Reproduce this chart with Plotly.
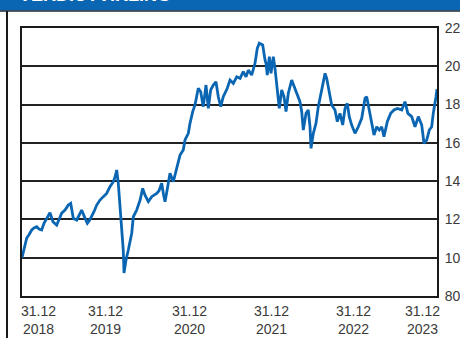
import plotly.graph_objects as go

# Decimal-year position (2019.0 = 31.12.2018) and index value (rebased to 100)
t = [2019.000, 2019.024, 2019.057, 2019.084, 2019.117, 2019.145, 2019.177, 2019.205, 2019.237, 2019.265,
     2019.298, 2019.337, 2019.373, 2019.418, 2019.446, 2019.478, 2019.518, 2019.558, 2019.587, 2019.618,
     2019.659, 2019.687, 2019.719, 2019.759, 2019.787, 2019.813, 2019.840, 2019.867, 2019.900, 2019.940,
     2019.980, 2020.020, 2020.060, 2020.100, 2020.120, 2020.141, 2020.160, 2020.181, 2020.201, 2020.220,
     2020.229, 2020.253, 2020.281, 2020.322, 2020.341, 2020.382, 2020.422, 2020.454, 2020.482, 2020.522,
     2020.563, 2020.623, 2020.651, 2020.683, 2020.705, 2020.723, 2020.747, 2020.783, 2020.823, 2020.864,
     2020.904, 2020.943, 2020.964, 2021.004, 2021.024, 2021.057, 2021.084, 2021.124, 2021.153, 2021.184,
     2021.217, 2021.245, 2021.273, 2021.305, 2021.337, 2021.365, 2021.394, 2021.425, 2021.473, 2021.506,
     2021.546, 2021.587, 2021.627, 2021.666, 2021.699, 2021.727, 2021.767, 2021.807, 2021.835, 2021.859,
     2021.900, 2021.928, 2021.940, 2021.955, 2021.980, 2022.000, 2022.028, 2022.048, 2022.076, 2022.100,
     2022.129, 2022.157, 2022.181, 2022.208, 2022.249, 2022.289, 2022.317, 2022.349, 2022.370, 2022.389,
     2022.422, 2022.449, 2022.470, 2022.482, 2022.510, 2022.542, 2022.570, 2022.611, 2022.651, 2022.671,
     2022.702, 2022.731, 2022.771, 2022.799, 2022.831, 2022.864, 2022.892, 2022.919, 2022.943, 2022.972,
     2023.012, 2023.052, 2023.093, 2023.133, 2023.153, 2023.184, 2023.213, 2023.241, 2023.274, 2023.305,
     2023.334, 2023.361, 2023.401, 2023.442, 2023.482, 2023.522, 2023.575, 2023.614, 2023.649, 2023.695,
     2023.735, 2023.775, 2023.816, 2023.843, 2023.876, 2023.907, 2023.936, 2023.955, 2023.988, 2024.000]

value = [100.0, 104.0, 110.3, 112.0, 114.5, 115.5, 116.2, 115.0, 114.5, 118.0,
         120.7, 123.5, 118.8, 117.0, 120.0, 123.3, 124.9, 127.5, 128.4, 120.6,
         119.7, 122.0, 124.9, 120.7, 118.0, 119.5, 121.4, 124.0, 127.5, 130.1,
         131.9, 133.6, 137.1, 139.7, 142.0, 145.8, 138.9, 126.6, 112.7, 104.0,
         92.0, 98.8, 104.0, 112.8, 121.4, 124.9, 130.0, 136.2, 132.7, 129.3,
         131.9, 133.6, 135.0, 138.9, 133.0, 129.3, 135.0, 144.1, 139.7, 147.5,
         153.6, 156.3, 161.5, 165.0, 170.2, 176.3, 179.8, 188.5, 186.7, 178.9,
         190.2, 178.0, 187.6, 190.2, 191.9, 184.1, 178.9, 184.1, 188.5, 192.8,
         191.1, 194.5, 193.7, 197.2, 194.5, 198.0, 195.4, 201.5, 209.4, 212.0,
         211.1, 203.3, 201.5, 195.4, 205.0, 196.3, 205.0, 198.9, 188.5, 178.0,
         187.6, 184.1, 176.3, 185.8, 192.8, 188.5, 185.0, 181.5, 176.3, 166.7,
         175.4, 177.2, 168.4, 157.1, 165.0, 170.2, 178.9, 187.6, 196.3, 193.7,
         186.7, 179.8, 177.2, 171.1, 175.4, 169.3, 178.0, 180.6, 173.7, 169.3,
         165.0, 168.4, 172.8, 183.3, 184.1, 177.2, 172.0, 164.1, 168.4, 166.7,
         168.4, 163.2, 171.1, 175.4, 177.2, 178.0, 177.2, 181.5, 175.4, 173.7,
         168.4, 173.7, 169.3, 159.8, 161.5, 166.7, 168.4, 175.4, 184.1, 188.0]

tick_pos = [2019, 2020, 2021, 2022, 2023, 2024]
tick_labels = ["31.12<br>2018", "31.12<br>2019", "31.12<br>2020",
               "31.12<br>2021", "31.12<br>2022", "31.12<br>2023"]
tick_shift = [16, 0, 1, 0, -1, -15]
title_text = "VERDIUTVIKLING"

BLUE = "#0a66b2"
TXT = "#3a3a3a"
FONT = "Liberation Sans, Arial, sans-serif"

fig = go.Figure()
fig.add_trace(go.Scatter(x=t, y=value, mode="lines",
                         line=dict(color=BLUE, width=2.8), hoverinfo="skip"))

fig.update_layout(
    width=460, height=338,
    margin=dict(l=22, r=23, t=28, b=42, autoexpand=False),
    paper_bgcolor="white", plot_bgcolor="white",
    showlegend=False,
    font=dict(family=FONT, size=14, color=TXT),
    xaxis=dict(range=[2019, 2024], showgrid=False, zeroline=False, automargin=False,
               showticklabels=False, ticks="",
               showline=True, mirror=True, linecolor="#1a1a1a", linewidth=2),
    yaxis=dict(range=[80, 220], dtick=20, side="right", ticks="", automargin=False,
               showgrid=True, gridcolor="#222222", gridwidth=2, zeroline=False,
               showline=True, mirror=True, linecolor="#1a1a1a", linewidth=2,
               ticklabelstandoff=3,
               tickfont=dict(family=FONT, size=14, color=TXT)),
)

for pos, lab, sh in zip(tick_pos, tick_labels, tick_shift):
    fig.add_annotation(x=pos, y=0, xref="x", yref="paper", text=lab,
                       showarrow=False, xanchor="center", yanchor="top",
                       xshift=sh, yshift=-5, align="center",
                       font=dict(family=FONT, size=14, color=TXT))

# header band, separator line and left frame line
fig.add_shape(type="rect", xref="paper", yref="paper",
              x0=-0.06, x1=1.06, y0=(296 - 10.5) / 268, y1=(296 + 2) / 268,
              fillcolor=BLUE, line=dict(width=0), layer="above")
fig.add_shape(type="line", xref="paper", yref="paper",
              x0=-0.06, x1=1.06, y0=(296 - 11) / 268, y1=(296 - 11) / 268,
              line=dict(color="#1e2a36", width=1.5), layer="above")
fig.add_shape(type="line", xref="paper", yref="paper",
              x0=(7 - 22) / 415, x1=(7 - 22) / 415, y0=(296 - 340) / 268, y1=(296 - 11) / 268,
              line=dict(color="#1a1a1a", width=2), layer="above")

fig.add_annotation(x=(17 - 22) / 415, y=(296 - 7) / 268, xref="paper", yref="paper",
                   text="<b>" + title_text + "</b>", showarrow=False,
                   xanchor="left", yanchor="bottom",
                   font=dict(family=FONT, size=18, color="white"))

fig.write_html("out.html", config={"displayModeBar": False},
               post_script="document.body.style.margin='0';document.body.style.padding='0';")
